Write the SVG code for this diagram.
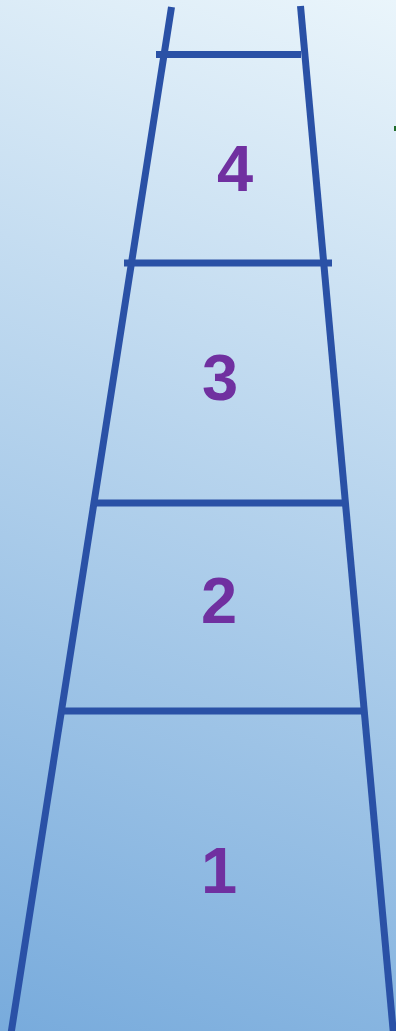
<svg xmlns="http://www.w3.org/2000/svg" width="396" height="1031" viewBox="0 0 396 1031">
  <defs>
    <linearGradient id="bg" gradientUnits="userSpaceOnUse" x1="396" y1="0" x2="0" y2="1031">
      <stop offset="0" stop-color="#eaf5fb"/>
      <stop offset="1" stop-color="#78abdc"/>
    </linearGradient>
  </defs>
  <style>
    .rail { stroke: #2a51a6; stroke-width: 7; fill: none; stroke-linecap: butt; }
    .num { font-family: "Liberation Sans", Arial, sans-serif; font-weight: bold; font-size: 65px; fill: #7030a0; text-anchor: middle; }
  </style>
  <rect x="0" y="0" width="396" height="1031" fill="url(#bg)"/>
  <g id="connectors">
    <line class="rail" x1="171.5" y1="7" x2="10" y2="1040"/>
    <line class="rail" x1="300.5" y1="6" x2="394" y2="1040"/>
    <line class="rail" x1="156" y1="54.5" x2="301" y2="54.5"/>
    <line class="rail" x1="124" y1="263" x2="332" y2="263"/>
    <line class="rail" x1="95" y1="503" x2="346" y2="503"/>
    <line class="rail" x1="62" y1="711" x2="365" y2="711"/>
  </g>
  <g id="step4"><text class="num" x="235" y="191">4</text></g>
  <g id="step3"><text class="num" x="220" y="400">3</text></g>
  <g id="step2"><text class="num" x="219" y="623">2</text></g>
  <g id="step1"><text class="num" x="219" y="893">1</text></g>
  <rect x="394" y="126" width="2" height="5" fill="#1f6b2a"/>
</svg>
